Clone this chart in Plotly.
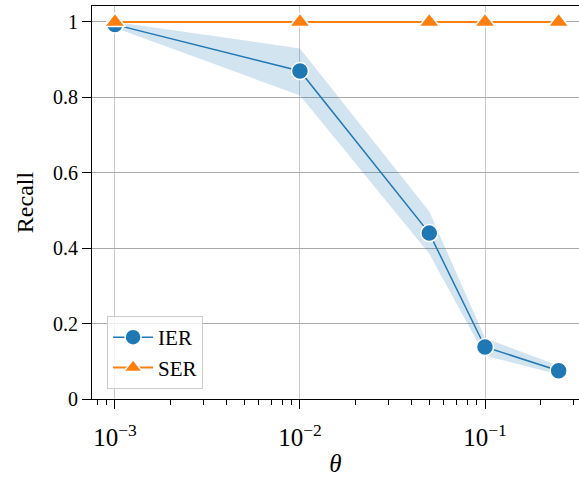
import plotly.graph_objects as go

theta = [0.001, 0.01, 0.05, 0.1, 0.25]
ier_mean = [0.993, 0.870, 0.440, 0.138, 0.075]
ier_low = [0.985, 0.805, 0.385, 0.115, 0.065]
ier_high = [1.000, 0.930, 0.497, 0.162, 0.088]
ser_mean = [1.0, 1.0, 1.0, 1.0, 1.0]

FONT = "Liberation Serif"
BLUE = "#1f77b4"
ORANGE = "#ff7f0e"

fig = go.Figure()
fig.add_trace(go.Scatter(x=theta, y=ier_high, mode="lines", line=dict(width=0),
                         showlegend=False, hoverinfo="skip"))
fig.add_trace(go.Scatter(x=theta, y=ier_low, mode="lines", line=dict(width=0),
                         fill="tonexty", fillcolor="rgba(31,119,180,0.2)",
                         showlegend=False, hoverinfo="skip"))
fig.add_trace(go.Scatter(x=theta, y=ier_mean, mode="lines+markers", name="IER",
                         line=dict(color=BLUE, width=1.5),
                         marker=dict(symbol="circle", size=17, color=BLUE,
                                     line=dict(color="white", width=1.5))))
fig.add_trace(go.Scatter(x=theta, y=ser_mean, mode="lines+markers", name="SER",
                         line=dict(color=ORANGE, width=2),
                         marker=dict(symbol="triangle-up", size=18, color=ORANGE,
                                     line=dict(color="white", width=1.5))))

fig.update_layout(
    width=579, height=480,
    margin=dict(l=92, r=0, t=6, b=81, autoexpand=False),
    paper_bgcolor="white", plot_bgcolor="white",
    font=dict(family=FONT, size=20, color="black"),
    showlegend=True,
    legend=dict(x=0.031, y=0.211, xanchor="left", yanchor="top",
                traceorder="normal",
                bgcolor="rgba(255,255,255,0.8)", bordercolor="#cccccc", borderwidth=1,
                font=dict(family=FONT, size=21), tracegroupgap=0,
                itemwidth=40),
)
fig.update_xaxes(
    type="log", range=[-3.124, -0.492], automargin=False,
    dtick=1, exponentformat="power",
    showline=True, linecolor="black", linewidth=1.2, mirror=True,
    ticks="outside", ticklen=9, tickwidth=1.2, tickcolor="black",
    showgrid=True, gridcolor="#c8c8c8", gridwidth=1,
    minor=dict(ticks="outside", ticklen=5, tickwidth=1, tickcolor="black", showgrid=False),
    title=dict(text="<i>θ</i>", standoff=4, font=dict(size=25)),
    ticklabelstandoff=8,
    zeroline=False,
)
fig.update_yaxes(
    range=[0, 1.0424], dtick=0.2, tick0=0, automargin=False,
    showline=True, linecolor="black", linewidth=1.2, mirror=False,
    ticks="outside", ticklen=9, tickwidth=1.2, tickcolor="black",
    showgrid=True, gridcolor="#a8a8a8", gridwidth=1,
    title=dict(text="Recall", standoff=12),
    zeroline=False,
)
fig.write_html("out.html", config={"displayModeBar": False},
               post_script="document.body.style.margin='0px';")
